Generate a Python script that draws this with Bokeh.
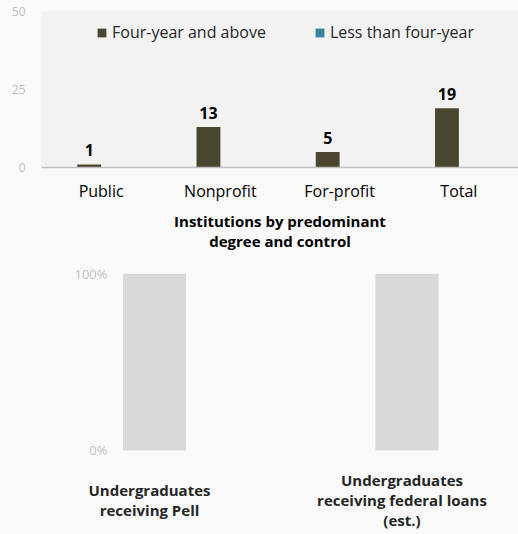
from bokeh.plotting import figure
from bokeh.models import ColumnDataSource, FactorRange, Range1d, FixedTicker, Legend, LegendItem, NumeralTickFormatter
from bokeh.core.properties import value
from bokeh.transform import dodge
from bokeh.layouts import column
from bokeh.embed import file_html
from bokeh.resources import INLINE

# ---- data ----
categories = ["Public", "Nonprofit", "For-profit", "Total"]
four_year = [1, 13, 5, 19]
less_than_four = [0, 0, 0, 0]
y_ticks_top = [0, 25, 50]
x_title = ["Institutions by predominant", "degree and control"]

aid_categories = [0, 1]
aid_full = [1.0, 1.0]
aid_labels = ["Undergraduates\nreceiving Pell",
              "Undergraduates\nreceiving federal loans\n(est.)"]
y_ticks_bottom = [0, 1]

FONT = "Open Sans"
BG = "#fafafa"
PLOT_BG = "#f2f2f2"
DARK = "#4a452e"
TEAL = "#31859c"
GRAY_TXT = "#bfbfbf"

# ---- top chart ----
src = ColumnDataSource(dict(cat=categories, four=four_year, less=less_than_four,
                            lbl=[str(v) for v in four_year]))
p1 = figure(width=518, height=255, x_range=FactorRange(*categories), y_range=Range1d(0, 50),
            output_backend="svg", toolbar_location=None,
            min_border_left=41, min_border_right=0, min_border_top=11, min_border_bottom=88)
p1.background_fill_color = PLOT_BG
p1.border_fill_color = BG
p1.outline_line_color = None
p1.x_range.range_padding = 0
p1.grid.grid_line_color = None

r1 = p1.vbar(x=dodge("cat", -0.1, range=p1.x_range), top="four", width=0.2, source=src,
             fill_color=DARK, line_color=None)
r2 = p1.vbar(x=dodge("cat", 0.1, range=p1.x_range), top="less", width=0.2, source=src,
             fill_color=TEAL, line_color=None)
p1.text(x=dodge("cat", -0.1, range=p1.x_range), y="four", text="lbl", source=src,
        text_align="center", text_baseline="bottom", y_offset=-8,
        text_font=value(FONT), text_font_style="bold", text_font_size="16px",
        text_color="#000000")

p1.yaxis.ticker = FixedTicker(ticks=y_ticks_top)
p1.yaxis.axis_line_color = None
p1.yaxis.major_tick_line_color = None
p1.yaxis.major_tick_out = 0
p1.yaxis.major_tick_in = 0
p1.yaxis.minor_tick_line_color = None
p1.yaxis.major_label_text_color = GRAY_TXT
p1.yaxis.major_label_text_font = FONT
p1.yaxis.major_label_text_font_size = "12px"
p1.yaxis.major_label_standoff = 16

p1.xaxis.axis_line_color = "#bfbfbf"
p1.xaxis.axis_line_width = 1.5
p1.xaxis.major_tick_line_color = None
p1.xaxis.major_tick_out = 0
p1.xaxis.major_tick_in = 0
p1.xaxis.minor_tick_line_color = None
p1.xaxis.major_label_text_font = FONT
p1.xaxis.major_label_text_font_size = "16px"
p1.xaxis.major_label_text_color = "#000000"
p1.xaxis.major_label_standoff = 12
p1.xaxis.axis_label = "\n".join(x_title)
p1.xaxis.axis_label_text_font = FONT
p1.xaxis.axis_label_text_font_style = "bold"
p1.xaxis.axis_label_text_font_size = "15px"
p1.xaxis.axis_label_text_color = "#000000"
p1.xaxis.axis_label_text_line_height = 1.0
p1.xaxis.axis_label_standoff = 6

legend = Legend(items=[LegendItem(label="Four-year and above", renderers=[r1]),
                       LegendItem(label="Less than four-year", renderers=[r2])],
                orientation="horizontal", location=(55, 124),
                background_fill_alpha=0, border_line_color=None,
                label_text_font=FONT, label_text_font_size="16px", label_text_color="#262626",
                glyph_width=11, glyph_height=11, label_standoff=5, spacing=48,
                padding=0, margin=0)
p1.add_layout(legend)

# ---- bottom chart ----
src2 = ColumnDataSource(dict(x=aid_categories, full=aid_full, zero=[0, 0], lbl=aid_labels))
p2 = figure(width=518, height=279, x_range=Range1d(-0.4475, 1.4416), y_range=Range1d(-0.4746, 1),
            output_backend="svg", toolbar_location=None,
            min_border_left=41, min_border_right=0, min_border_top=18, min_border_bottom=0)
p2.background_fill_color = BG
p2.border_fill_color = BG
p2.outline_line_color = None
p2.grid.grid_line_color = None
p2.vbar(x="x", bottom="zero", top="full", width=0.25, source=src2,
        fill_color="#d9d9d9", line_color=None)
p2.text(x="x", y="zero", text="lbl", source=src2, x_offset=-5, y_offset=50,
        text_align="center", text_baseline="middle", text_line_height=1.0,
        text_font=value(FONT), text_font_style="bold", text_font_size="15px",
        text_color="#262626")

p2.yaxis.ticker = FixedTicker(ticks=y_ticks_bottom)
p2.yaxis.formatter = NumeralTickFormatter(format="0%")
p2.yaxis.axis_line_color = None
p2.yaxis.major_tick_line_color = None
p2.yaxis.major_tick_out = 0
p2.yaxis.major_tick_in = 0
p2.yaxis.minor_tick_line_color = None
p2.yaxis.major_label_text_color = GRAY_TXT
p2.yaxis.major_label_text_font = FONT
p2.yaxis.major_label_text_font_size = "13px"
p2.yaxis.major_label_standoff = -66
p2.xaxis.visible = False

layout = column(p1, p2, spacing=0)
layout.styles = {"background-color": BG}
open("out.html", "w").write(file_html(layout, INLINE))
